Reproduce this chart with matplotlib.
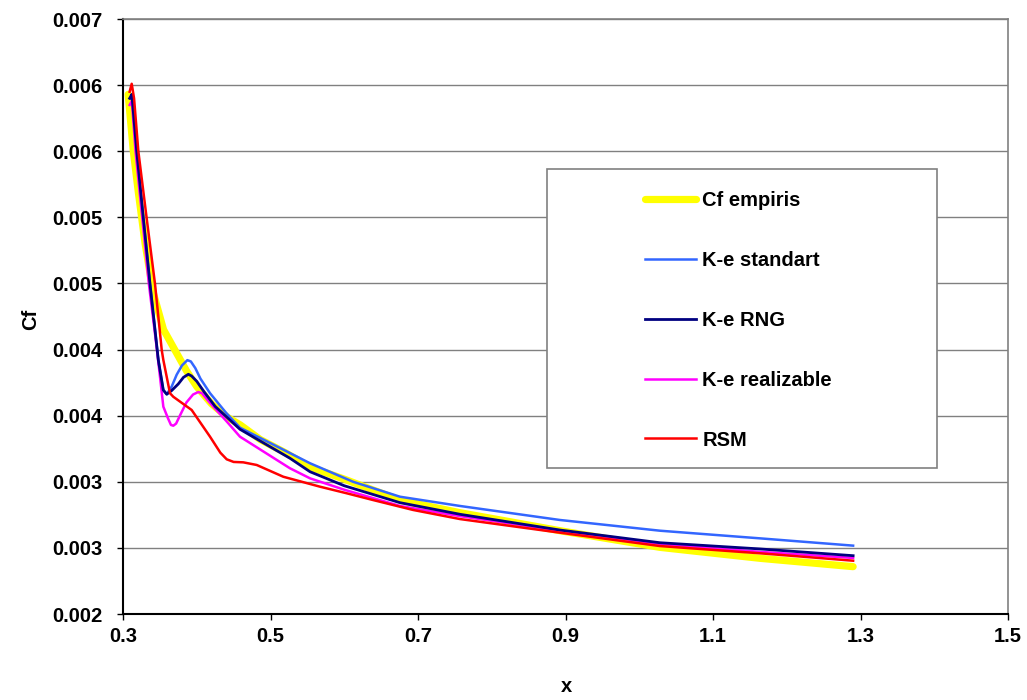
import matplotlib
matplotlib.use("Agg")
import matplotlib.pyplot as plt
from matplotlib.patches import Rectangle

plt.rcParams['font.family'] = ['Liberation Sans', 'DejaVu Sans']

# ---- data ----
x_emp = [0.307, 0.314, 0.321, 0.330, 0.341, 0.355, 0.373, 0.386, 0.400, 0.420, 0.441,
         0.459, 0.486, 0.520, 0.554, 0.600, 0.676, 0.757, 0.8925, 1.028, 1.164, 1.29]
y_emp = [0.00593, 0.00550, 0.00518, 0.00480, 0.00443, 0.00415, 0.00397, 0.00384, 0.00372,
         0.00359, 0.00349, 0.00343, 0.00332, 0.00322, 0.00311, 0.00302, 0.00286, 0.002766,
         0.00263, 0.002504, 0.002421, 0.002358]

x_std = [0.310, 0.313, 0.3186, 0.3275, 0.3366, 0.3479, 0.3546, 0.3593, 0.366, 0.3728,
         0.380, 0.3873, 0.392, 0.398, 0.405, 0.418, 0.440, 0.4586, 0.5536, 0.612, 0.6756,
         0.757, 0.8925, 1.028, 1.164, 1.29]
y_std = [0.00590, 0.00592, 0.00550, 0.004997, 0.004496, 0.00392, 0.003694, 0.003662,
         0.00372, 0.00381, 0.00388, 0.00392, 0.00391, 0.00386, 0.00378, 0.00367, 0.00352,
         0.003409, 0.00314, 0.00300, 0.002887, 0.002817, 0.002711, 0.00263, 0.002572,
         0.002517]

x_rng = [0.309, 0.312, 0.3186, 0.3275, 0.3366, 0.3479, 0.3546, 0.3593, 0.366, 0.375,
         0.382, 0.3886, 0.393, 0.400, 0.410, 0.425, 0.4586, 0.5264, 0.5536, 0.600,
         0.6756, 0.757, 0.8925, 1.028, 1.164, 1.29]
y_rng = [0.00590, 0.00593, 0.00550, 0.004997, 0.004496, 0.00392, 0.003694, 0.003662,
         0.00369, 0.00374, 0.00379, 0.003813, 0.00380, 0.00376, 0.00368, 0.00357,
         0.003397, 0.003178, 0.003076, 0.00297, 0.002842, 0.002754, 0.002635, 0.002539,
         0.002492, 0.002441]

x_rea = [0.309, 0.312, 0.317, 0.326, 0.335, 0.346, 0.3547, 0.361, 0.365, 0.3682, 0.372,
         0.378, 0.386, 0.395, 0.4021, 0.407, 0.418, 0.440, 0.4586, 0.5264, 0.5536,
         0.600, 0.6756, 0.757, 0.8925, 1.028, 1.164, 1.29]
y_rea = [0.00585, 0.00588, 0.00550, 0.00500, 0.00450, 0.00400, 0.003568, 0.00348,
         0.00343, 0.003424, 0.00344, 0.00351, 0.00360, 0.00366, 0.003679, 0.00367,
         0.003596, 0.00346, 0.003341, 0.003102, 0.003026, 0.00294, 0.002817, 0.00274,
         0.00263, 0.00253, 0.00247, 0.002424]

x_rsm = [0.309, 0.3118, 0.315, 0.3208, 0.332, 0.3434, 0.3525, 0.3547, 0.3637, 0.3682,
         0.3931, 0.418, 0.432, 0.4406, 0.450, 0.4631, 0.4813, 0.5174, 0.567, 0.6033,
         0.639, 0.6932, 0.757, 0.8925, 1.028, 1.164, 1.29]
y_rsm = [0.00595, 0.00601, 0.00590, 0.00550, 0.004997, 0.004496, 0.003997, 0.003921,
         0.00367, 0.003643, 0.003543, 0.003341, 0.00322, 0.00317, 0.00315, 0.003147,
         0.003127, 0.003038, 0.002963, 0.002913, 0.002862, 0.002787, 0.002718, 0.002615,
         0.002514, 0.002459, 0.002403]

series_names = ['Cf empiris', 'K-e standart', 'K-e RNG', 'K-e realizable', 'RSM']

x_ticks = [0.3, 0.5, 0.7, 0.9, 1.1, 1.3, 1.5]
x_tick_labels = ['0.3', '0.5', '0.7', '0.9', '1.1', '1.3', '1.5']
y_ticks = [0.002, 0.0025, 0.003, 0.0035, 0.004, 0.0045, 0.005, 0.0055, 0.006, 0.0065]
y_tick_labels = ['0.002', '0.003', '0.003', '0.004', '0.004', '0.005', '0.005',
                 '0.006', '0.006', '0.007']

FS = 14.5

# ---- figure ----
fig = plt.figure(figsize=(10.27, 7.0), dpi=100)
ax = fig.add_axes([123 / 1027, 1 - 614 / 700, 885 / 1027, 595 / 700])

ax.plot(x_emp, y_emp, color='#FFFF00', lw=5.2, solid_capstyle='round',
        solid_joinstyle='round', label=series_names[0], zorder=2)
ax.plot(x_std, y_std, color='#3366FF', lw=1.8, label=series_names[1], zorder=3)
ax.plot(x_rng, y_rng, color='#000080', lw=2.0, label=series_names[2], zorder=4)
ax.plot(x_rea, y_rea, color='#FF00FF', lw=1.8, label=series_names[3], zorder=3)
ax.plot(x_rsm, y_rsm, color='#FF0000', lw=1.8, label=series_names[4], zorder=5)

ax.set_xlim(0.3, 1.5)
ax.set_ylim(0.002, 0.0065)
ax.set_xticks(x_ticks)
ax.set_xticklabels(x_tick_labels)
ax.set_yticks(y_ticks)
ax.set_yticklabels(y_tick_labels)

for lab in ax.get_xticklabels() + ax.get_yticklabels():
    lab.set_fontweight('bold')
    lab.set_fontsize(FS)

ax.tick_params(axis='both', direction='out', length=4.5, width=1, color='black')
ax.tick_params(axis='y', pad=10)
ax.tick_params(axis='x', pad=5)
ax.yaxis.grid(True, color='#808080', lw=1.0)
ax.set_axisbelow(True)

for side in ['top', 'right']:
    ax.spines[side].set_color('#808080')
    ax.spines[side].set_linewidth(1.2)
for side in ['left', 'bottom']:
    ax.spines[side].set_color('black')
    ax.spines[side].set_linewidth(1.5)

ax.set_xlabel('x', fontsize=FS, fontweight='bold')
ax.set_ylabel('Cf', fontsize=FS, fontweight='bold')
ax.xaxis.set_label_coords((566 - 123) / 885, (614 - 686) / 595)
ax.yaxis.set_label_coords((31 - 123) / 885, (614 - 319) / 595)
ax.xaxis.label.set_verticalalignment('center')
ax.yaxis.label.set_verticalalignment('center')

# legend frame
ax.add_patch(Rectangle((547 / 1027, 1 - 468 / 700), 390 / 1027, 299 / 700,
                       transform=fig.transFigure, facecolor='white',
                       edgecolor='#808080', lw=1.2, zorder=10, clip_on=False))
leg = ax.legend(loc='upper left', bbox_to_anchor=(645 / 1027, 1 - 191 / 700),
                bbox_transform=fig.transFigure, frameon=False, borderpad=0,
                borderaxespad=0, handlelength=2.55, handletextpad=0.3,
                labelspacing=2.03, prop={'weight': 'bold', 'size': FS})
leg.set_zorder(11)

fig.savefig('out.png', dpi=100)
